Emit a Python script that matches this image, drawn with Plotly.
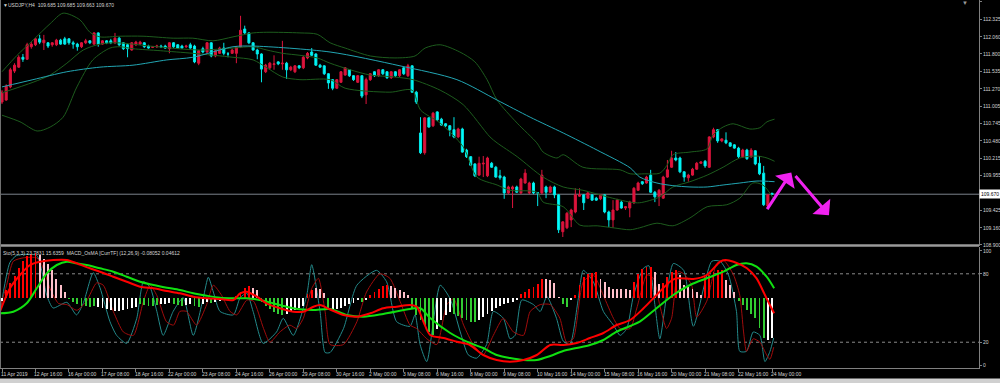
import plotly.graph_objects as go

# ---------------- data ----------------
time_labels = ["11 Apr 2019", "12 Apr 16:00", "16 Apr 00:00", "17 Apr 08:00", "18 Apr 16:00",
               "22 Apr 00:00", "23 Apr 08:00", "24 Apr 16:00", "26 Apr 00:00", "29 Apr 08:00",
               "30 Apr 16:00", "2 May 00:00", "3 May 08:00", "6 May 16:00", "8 May 00:00",
               "9 May 08:00", "10 May 16:00", "14 May 00:00", "15 May 08:00", "16 May 16:00",
               "20 May 00:00", "21 May 08:00", "22 May 16:00", "24 May 00:00"]
label_bars = [0, 8, 16, 24, 32, 40, 48, 56, 64, 72, 80, 88, 96, 104, 112, 120, 128, 136,
              144, 152, 160, 168, 176, 184]

price_ticks = [112.590, 112.325, 112.060, 111.800, 111.535, 111.270, 111.005, 110.745,
               110.480, 110.215, 109.955, 109.425, 109.160, 108.900]
last_price = 109.670

opens = [111.07, 111.10, 111.30, 111.54, 111.60, 111.75, 111.72, 111.91, 111.94, 112.03,
         111.97, 111.97, 111.94, 111.94, 112.01, 112.03, 112.03, 111.97, 111.95, 111.91,
         111.97, 112.00, 111.95, 112.12, 111.95, 112.00, 112.00, 111.97, 112.04, 111.97,
         111.94, 111.86, 111.94, 111.95, 111.97, 111.92, 111.90, 111.91, 111.92, 111.92,
         111.88, 111.97, 111.94, 111.92, 111.91, 111.94, 111.92, 111.66, 111.88, 111.83,
         111.97, 111.77, 111.81, 111.89, 111.80, 111.81, 111.81, 111.91, 112.18, 112.12,
         111.97, 111.86, 111.80, 111.53, 111.59, 111.64, 111.68, 111.65, 111.66, 111.56,
         111.53, 111.62, 111.59, 111.74, 111.83, 111.80, 111.63, 111.62, 111.50, 111.41,
         111.28, 111.37, 111.48, 111.56, 111.47, 111.37, 111.47, 111.18, 111.41, 111.53,
         111.47, 111.56, 111.53, 111.44, 111.53, 111.47, 111.59, 111.47, 111.62, 111.22,
         110.60, 110.30, 110.83, 110.71, 110.92, 110.81, 110.74, 110.71, 110.65, 110.54,
         110.66, 110.34, 110.24, 110.13, 109.96, 110.13, 109.95, 110.14, 110.08, 109.95,
         109.93, 109.69, 109.75, 109.78, 109.69, 109.84, 109.69, 109.84, 109.69, 109.69,
         109.78, 109.70, 109.78, 109.66, 109.10, 109.16, 109.28, 109.40, 109.64, 109.66,
         109.61, 109.66, 109.61, 109.60, 109.66, 109.40, 109.28, 109.43, 109.55, 109.46,
         109.46, 109.54, 109.73, 109.86, 109.84, 109.96, 109.70, 109.63, 109.61, 109.93,
         110.08, 110.22, 110.22, 110.01, 109.92, 109.96, 110.05, 110.14, 110.17, 110.08,
         110.54, 110.65, 110.48, 110.49, 110.45, 110.42, 110.37, 110.24, 110.34, 110.24,
         110.33, 110.14, 109.99, 109.49, 109.685]
highs = [111.25, 111.34, 111.59, 111.66, 111.78, 111.80, 111.97, 111.98, 112.04, 112.09,
         112.09, 111.98, 111.98, 112.03, 112.03, 112.06, 112.04, 112.00, 111.97, 111.98,
         112.03, 112.01, 112.13, 112.13, 112.01, 112.01, 112.03, 112.12, 112.06, 111.98,
         111.95, 111.98, 112.00, 112.00, 111.98, 111.94, 111.92, 111.94, 111.94, 111.94,
         111.98, 111.98, 111.95, 111.94, 111.94, 111.97, 111.94, 111.86, 111.91, 111.98,
         111.98, 111.86, 111.91, 111.97, 111.83, 111.88, 111.92, 112.38, 112.23, 112.13,
         111.98, 111.88, 111.81, 111.65, 111.68, 111.78, 111.69, 112.00, 111.68, 111.62,
         111.63, 111.63, 111.77, 111.83, 111.89, 111.81, 111.65, 111.63, 111.51, 111.42,
         111.42, 111.54, 111.60, 111.57, 111.48, 111.48, 111.48, 111.44, 111.51, 111.54,
         111.57, 111.57, 111.54, 111.54, 111.54, 111.57, 111.60, 111.65, 111.63, 111.24,
         110.84, 110.84, 110.84, 110.92, 110.93, 110.83, 110.75, 110.72, 110.84, 110.68,
         110.68, 110.36, 110.25, 110.14, 110.24, 110.25, 110.24, 110.16, 110.10, 110.04,
         109.95, 109.80, 109.80, 109.80, 109.92, 110.05, 109.86, 109.86, 109.70, 110.04,
         109.80, 109.80, 109.80, 109.67, 109.26, 109.40, 109.45, 109.76, 109.76, 109.67,
         109.70, 109.67, 109.63, 109.67, 109.67, 109.42, 109.58, 109.60, 109.57, 109.49,
         109.57, 109.78, 109.86, 109.87, 109.95, 110.04, 109.72, 109.75, 109.95, 110.19,
         110.33, 110.31, 110.24, 110.02, 109.98, 110.07, 110.16, 110.17, 110.19, 110.55,
         110.68, 110.66, 110.52, 110.61, 110.46, 110.43, 110.39, 110.36, 110.36, 110.37,
         110.34, 110.25, 110.10, 109.67, 109.685]
lows = [111.04, 111.09, 111.28, 111.51, 111.59, 111.68, 111.71, 111.88, 111.92, 111.95,
        111.86, 111.89, 111.91, 111.92, 111.94, 111.94, 111.94, 111.88, 111.85, 111.89,
        111.95, 111.95, 111.94, 111.91, 111.94, 111.95, 111.95, 111.95, 111.92, 111.86,
        111.75, 111.85, 111.92, 111.94, 111.89, 111.88, 111.89, 111.89, 111.89, 111.88,
        111.81, 111.89, 111.88, 111.88, 111.89, 111.88, 111.66, 111.63, 111.81, 111.80,
        111.75, 111.75, 111.80, 111.78, 111.75, 111.80, 111.66, 111.89, 112.10, 111.95,
        111.85, 111.72, 111.37, 111.51, 111.56, 111.56, 111.63, 111.56, 111.42, 111.54,
        111.51, 111.57, 111.57, 111.72, 111.77, 111.62, 111.59, 111.48, 111.27, 111.25,
        111.27, 111.36, 111.47, 111.45, 111.39, 111.36, 111.13, 111.04, 111.39, 111.45,
        111.45, 111.48, 111.42, 111.42, 111.45, 111.45, 111.48, 111.45, 111.21, 111.04,
        110.28, 110.27, 110.68, 110.69, 110.78, 110.71, 110.69, 110.55, 110.52, 110.52,
        110.30, 110.22, 110.10, 109.93, 109.95, 109.93, 109.93, 110.07, 109.92, 109.89,
        109.60, 109.67, 109.46, 109.69, 109.67, 109.83, 109.67, 109.67, 109.49, 109.67,
        109.61, 109.69, 109.61, 109.08, 109.02, 109.14, 109.17, 109.38, 109.63, 109.43,
        109.60, 109.57, 109.57, 109.58, 109.38, 109.17, 109.16, 109.42, 109.45, 109.43,
        109.32, 109.52, 109.72, 109.81, 109.83, 109.69, 109.55, 109.49, 109.60, 109.92,
        110.07, 110.17, 109.99, 109.86, 109.86, 109.95, 110.04, 110.13, 110.07, 110.07,
        110.52, 110.45, 110.46, 110.43, 110.39, 110.36, 110.22, 110.22, 110.19, 110.22,
        110.11, 109.96, 109.49, 109.48, 109.663]
closes = [111.22, 111.31, 111.56, 111.63, 111.75, 111.72, 111.94, 111.95, 112.03, 111.98,
          112.01, 111.92, 111.97, 112.01, 111.95, 111.95, 111.97, 111.95, 111.91, 111.97,
          112.00, 111.97, 112.12, 111.95, 112.00, 111.97, 111.97, 112.04, 111.94, 111.88,
          111.88, 111.97, 111.98, 111.98, 111.91, 111.89, 111.91, 111.92, 111.91, 111.89,
          111.97, 111.91, 111.89, 111.89, 111.92, 111.89, 111.68, 111.85, 111.83, 111.97,
          111.77, 111.85, 111.89, 111.81, 111.80, 111.86, 111.91, 112.16, 112.12, 111.97,
          111.86, 111.80, 111.57, 111.63, 111.66, 111.65, 111.65, 111.66, 111.56, 111.60,
          111.62, 111.59, 111.75, 111.81, 111.78, 111.63, 111.60, 111.50, 111.36, 111.28,
          111.41, 111.53, 111.59, 111.47, 111.41, 111.47, 111.16, 111.41, 111.50, 111.47,
          111.56, 111.50, 111.44, 111.53, 111.47, 111.56, 111.50, 111.62, 111.22, 111.07,
          110.30, 110.83, 110.69, 110.90, 110.80, 110.72, 110.71, 110.65, 110.54, 110.66,
          110.31, 110.24, 110.11, 109.95, 110.14, 110.14, 110.22, 110.08, 109.93, 109.92,
          109.69, 109.78, 109.78, 109.70, 109.90, 109.99, 109.84, 109.69, 109.69, 109.96,
          109.70, 109.78, 109.66, 109.13, 109.25, 109.38, 109.43, 109.66, 109.66, 109.54,
          109.69, 109.58, 109.58, 109.66, 109.40, 109.28, 109.43, 109.58, 109.46, 109.48,
          109.55, 109.76, 109.84, 109.83, 109.93, 109.70, 109.63, 109.73, 109.93, 110.04,
          110.22, 110.19, 110.01, 109.93, 109.96, 110.05, 110.14, 110.16, 110.10, 110.54,
          110.65, 110.48, 110.51, 110.45, 110.40, 110.37, 110.24, 110.34, 110.21, 110.34,
          110.13, 109.98, 109.51, 109.66, 109.670]

# moving average (teal) and Bollinger bands, sampled along the bars
ma_bar = [0, 7.4, 15.5, 23.4, 31.3, 39.4, 45.6, 55.2, 60, 78.4, 95.1, 108.7, 118.3, 126.2,
          134.1, 142.2, 150.1, 152.4, 156.5, 160.3, 164.4, 168.5, 172.3, 176.3, 180.4, 184.6]
ma = [111.30, 111.41, 111.53, 111.60, 111.63, 111.71, 111.75, 111.91, 111.92, 111.83,
      111.62, 111.41, 111.10, 110.84, 110.60, 110.34, 110.07, 109.93, 109.84, 109.80,
      109.78, 109.78, 109.81, 109.84, 109.87, 109.86]
ub_bar = [0, 3.6, 7.4, 11.5, 14.6, 18.6, 21, 23.4, 28.2, 33.7, 40.9, 45.6, 50.4, 55.2, 60,
          63.3, 71.2, 75.3, 78.4, 82, 88, 93.9, 98.7, 101.1, 104.7, 109.4, 113, 115.9, 118.3,
          123.1, 127.8, 129.3, 132.6, 134.1, 138.8, 147.7, 150.1, 153.6, 157.2, 158.9, 160.3,
          164.4, 168.5, 169.9, 172.3, 174.7, 178.7, 181.1, 182.8, 184.6]
ub = [111.53, 111.78, 112.01, 112.26, 112.42, 112.32, 112.13, 112.06, 112.07, 112.07,
      112.04, 112.04, 112.00, 112.06, 112.12, 112.13, 112.12, 112.10, 111.97, 111.89,
      111.77, 111.74, 111.77, 111.89, 111.94, 111.83, 111.68, 111.41, 111.10, 110.75,
      110.45, 110.31, 110.22, 110.27, 110.08, 110.04, 109.98, 109.98, 109.99, 110.11,
      110.27, 110.31, 110.36, 110.57, 110.69, 110.74, 110.66, 110.68, 110.77, 110.81]
mb_bar = [0, 7.4, 11.5, 15.5, 19.4, 23.4, 27.5, 35.4, 47.3, 55.2, 60, 63.3, 67.1, 71.2, 75.3,
          78.4, 83.2, 88, 93.9, 98.2, 104.7, 110.2, 116.6, 118.3, 123.1, 129.3, 134.1, 138.8,
          144.6, 150.1, 152.4, 157.2, 160.3, 164.4, 168.5, 172.3, 176.3, 180.4, 182.8, 184.6]
mb = [111.21, 111.37, 111.48, 111.66, 111.86, 111.95, 111.97, 111.92, 111.86, 111.89,
      111.91, 111.86, 111.81, 111.78, 111.74, 111.66, 111.56, 111.48, 111.45, 111.41,
      111.25, 111.03, 110.54, 110.45, 110.24, 109.93, 109.78, 109.73, 109.63, 109.55,
      109.54, 109.63, 109.78, 109.86, 109.96, 110.08, 110.22, 110.25, 110.22, 110.17]
lb_bar = [0, 4.3, 8.4, 11.5, 14.6, 17.9, 21.7, 25.8, 28.2, 31.3, 37.8, 45.6, 55.2, 60, 63.3,
          67.1, 71.2, 78.4, 82, 92.7, 98, 100, 104.7, 110.2, 113.5, 118.3, 121.4, 127.8,
          129.3, 134.1, 138.1, 142.2, 146, 150.1, 152.4, 156.5, 160.3, 164.4, 168.5, 173.2,
          176.3, 179.4, 181.8, 184.6]
lb = [110.87, 110.77, 110.63, 110.69, 110.84, 111.30, 111.71, 111.89, 111.91, 111.88,
      111.85, 111.81, 111.75, 111.71, 111.59, 111.45, 111.41, 111.41, 111.28, 111.22,
      111.25, 110.95, 110.75, 110.39, 109.93, 109.81, 109.73, 109.70, 109.55, 109.48,
      109.20, 109.19, 109.16, 109.13, 109.16, 109.23, 109.19, 109.31, 109.48, 109.51,
      109.61, 109.84, 109.81, 109.58]

# Stochastic (5,3,3): main (%K) and signal (%D)
sto_k_bar = [-0.4, 1.9, 3.5, 8.3, 10.7, 12.2, 15.5, 17.8, 19.4, 21.8, 23.4, 25.8, 27.4, 29.8,
             32.2, 33.8, 35.4, 37, 38.5, 40.9, 43.3, 45.7, 48.1, 49.3, 50.5, 52.1, 55.3, 56.9,
             58.5, 60, 62.4, 65.6, 67.2, 69.6, 72.8, 74, 76, 77.2, 78.4, 81.6, 84.8, 89.5,
             91.9, 94.3, 97.5, 98.7, 99.9, 101.5, 104.7, 107.1, 109.5, 111.4, 113.4, 115.8,
             117.4, 119.8, 121.4, 122.6, 124.2, 127, 128.6, 130.2, 132.5, 134.1, 135.7, 137.7,
             138.9, 141.3, 143.7, 146.1, 147.7, 149.3, 150.9, 153.3, 154.6, 156, 157.2, 160.4,
             162.9, 165.2, 169.6, 171.6, 173.6, 175.5, 176.3, 177.9, 179.5, 181.1, 182.3,
             183.5, 184.4]
sto_k = [48, 90, 96, 96, 61, 50, 55, 44, 54, 81, 68, 38, 26, 19, 41, 73, 68, 47, 26, 47,
         59, 26, 59, 77, 64, 47, 44, 59, 63, 47, 19, 29, 41, 26, 61, 88, 47, 11, 11, 32,
         70, 83, 73, 38, 34, 44, 18, 3, 70, 58, 29, 9, 6, 18, 47, 41, 23, 26, 57, 53,
         47, 60, 41, 21, 18, 58, 83, 73, 47, 35, 26, 32, 61, 85, 87, 53, 23, 89, 83, 34,
         91, 91, 79, 47, 12, 12, 29, 26, 3, 12, 23.78]
sto_d_bar = [-0.5, 1.1, 2.7, 5.1, 8.3, 9.5, 11.5, 13.5, 15.5, 17.9, 20.2, 22.6, 24.2, 26.6,
             29, 31.4, 33.8, 35.4, 37, 39.3, 41, 42.5, 44.1, 46.5, 48.9, 50.5, 52.5, 54.5,
             56.1, 58.5, 60.1, 62.5, 64, 66.4, 68.8, 70.4, 72, 74, 75.6, 77.2, 78.4, 81.6,
             84.8, 87.1, 90.3, 92.7, 95.1, 97.5, 99.1, 101.5, 103.9, 106.3, 107.9, 110.3,
             112.6, 115, 117.4, 119.8, 122.2, 124.6, 126.2, 128.6, 131, 133.3, 134.9, 136.5,
             138.9, 141.3, 143.7, 146.1, 147.7, 150.1, 151.7, 154.1, 155.7, 157.2, 158.8, 160,
             161.6, 162.9, 164.8, 166, 168.4, 170.8, 172.4, 174.8, 176.3, 177.2, 177.9, 179.5,
             181.1, 182.7, 183.5, 184.4]
sto_d = [50, 70, 91, 94, 94, 88, 67, 54, 53, 48, 56, 72, 70, 47, 29, 26, 56, 70, 61, 38,
         35, 47, 47, 35, 53, 70, 61, 47, 44, 57, 56, 32, 20, 29, 35, 32, 41, 67, 76, 47,
         18, 18, 38, 64, 80, 76, 56, 35, 32, 23, 18, 53, 58, 35, 18, 9, 26, 41, 29, 26,
         47, 53, 53, 41, 20, 23, 73, 79, 61, 41, 32, 32, 50, 79, 76, 52, 32, 41, 82, 80,
         70, 42, 56, 89, 92, 79, 61, 29, 12, 23, 20, 9, 5, 15.64]

# MACD_OsMA [CurrTF] (12,26,9): histogram per bar and its two lines (indicator units)
osma = [-3, 8, 15, 22, 30, 37, 42, 44, 45, 43, 39, 34, 28, 19, 13, 6, -1, -4, -6, -8, -8, -9,
        -8, -9, -10, -11, -12, -13, -13, -12, -11, -10, -9, -6, -7, -8, -8, -7, -6, -6, -5,
        -6, -7, -8, -7, -6, -8, -9, -6, -4, -5, -4, -3, -2, -1, -1, 2, 6, 10, 12, 10, 8,
        -4, -8, -11, -14, -16, -17, -16, -14, -12, -10, -8, 4, 8, 10, 9, 5, -10, -12, -11,
        -10, -8, -6, -5, -2, -4, -2, 3, 6, 9, 12, 13, 12, 10, 8, 6, 3, -11, -17, -22, -27,
        -34, -37, -31, -22, -17, -14, -16, -18, -20, -22, -24, -24, -22, -19, -16, -13, -10,
        -8, -6, -5, -4, -2, 4, 6, 9, 11, 14, 19, 19, 18, 15, 1, -6, -9, -2, 3, 13, 21, 24,
        25, 26, 19, 16, 11, 9, 9, 9, 9, 8, 16, 24, 29, 31, 31, 26, 14, 15, 21, 26, 28, 23,
        13, 11, 9, 6, 3, 21, 23, 26, 28, 28, 18, 13, 6, -3, -7, -12, -16, -20, -30, -40,
        -42, -40]
osma_state = ("w" + "rrrrrrrr" + "ppppppp" + "ggggggg" + "wwwwwwwwww" + "ggggg" + "www" + "ggg"
              + "ww" + "gg" + "ww" + "g" + "wwwww" + "rrrr" + "pp" + "gggggg" + "wwwww" + "rr"
              + "ppp" + "g" + "wwwwwww" + "g" + "w" + "rrrrr" + "ppppp" + "gggggg" + "wwww"
              + "gggggg" + "wwwwwwwwww" + "rrrrrr" + "pppp" + "gg" + "w" + "rrrrrr" + "pppppppp"
              + "rrrrr" + "pp" + "rrrr" + "pppppp" + "rrrrr" + "ppp" + "ggggggg" + "ww")
macd_bar = [-0.5, 1.9, 4.3, 6.7, 9.1, 12.3, 15.5, 17.8, 21, 23.4, 26.6, 29.8, 33, 36.2, 39.4,
            42.5, 45.7, 48.9, 52.1, 55.3, 56.9, 58.5, 60.9, 63.2, 66.4, 69.6, 72, 74.4, 76,
            78.4, 81.6, 84.8, 88, 91.1, 94.3, 97.5, 99.1, 100.7, 102.3, 105.5, 108.7, 111.8,
            115, 118.2, 121.4, 124.6, 127.8, 131, 134.1, 137.3, 140.5, 143.7, 146.9, 150.1,
            153.3, 156.4, 159.6, 161.2, 165.2, 168.4, 171.6, 172.8, 174.8, 178, 180.3, 182.3,
            183.6, 184.5]
macd_main = [-13.7, 9.7, 23, 33, 36.3, 38, 38, 34.7, 29.7, 26.3, 21.3, 16.3, 11.3, 9.7, 7,
             4.7, 1.3, -0.3, -1, -2, 4.7, 6.3, 1.3, -5.3, -10.3, -13.7, -13.7, -8.7, -7, -11.5,
             -17, -18.7, -15.3, -10.3, -8.7, -7, -8.7, -23.7, -37, -40, -43.7, -47, -57, -62,
             -63.7, -62, -57, -47, -47, -45, -40, -35, -27, -22, -10.3, 3, 16.3, 19.7, 19, 23,
             36.3, 38, 36.3, 29.7, 19.7, 3, -8, -15.3]
sig_bar = [-0.5, 2.7, 5.9, 8.3, 10.7, 13.1, 15.5, 17.8, 20.2, 23.4, 26.6, 29.8, 33, 36.2, 39.4,
           42.5, 45.7, 48.9, 52.1, 55.3, 58.5, 61.6, 64.8, 68, 71.2, 74.4, 78.4, 82.4, 86.4,
           91.1, 97.5, 99.9, 102.3, 107.1, 111.8, 115, 118.2, 121.4, 124.6, 127.8, 131, 134.1,
           137.3, 140.5, 143.7, 146.9, 150.1, 152.4, 156.4, 160.4, 164.4, 168.4, 172.4, 175.5,
           177.9, 180.3, 182.7, 184.5]
macd_signal = [-15.3, -13.7, -5.3, 9.7, 24.7, 33, 36.3, 34.7, 33, 29.7, 26.3, 21.3, 16.3, 13,
               10.3, 8, 4.7, 2.3, 0.3, -0.3, -0.3, -2, -5.3, -8.7, -11.3, -12, -11, -17, -18.7,
               -16, -11, -10, -20, -35, -45, -50, -57, -60, -62, -62, -58, -53, -50, -47, -42,
               -33.7, -28, -23.7, -10.3, 3, 13, 19.7, 26.3, 33, 34.7, 31.3, 21.3, 9.7]

# hand-drawn magenta arrows on the chart: (tail bar, tail price, head bar, head price)
drawn_arrows = [(182.6, 109.42, 188.6, 110.00), (189.3, 109.97, 197.6, 109.35)]

# ---------------- styling / layout ----------------
FONT = "Liberation Sans"
TXT = "#d4d4d4"
AXC = "#808080"
W, H = 1000, 383
PLOT_W = 979          # plot area right edge (px)
PLOT_B = 368          # plot area bottom (px)
BAR0_X, BAR_DX = 2.0, 4.185


def px_x(p):          # pixel -> paper (x)
    return p / PLOT_W


def px_y(p):          # pixel -> paper (y)
    return (PLOT_B - p) / PLOT_B


xrange_ = [(0 - BAR0_X) / BAR_DX, (PLOT_W - BAR0_X) / BAR_DX]
main_top_price = 112.62
main_bottom_price = 112.62 - 0.01519 * 246

fig = go.Figure()

bars = list(range(len(opens)))
fig.add_trace(go.Candlestick(
    x=bars, open=opens, high=highs, low=lows, close=closes,
    increasing=dict(line=dict(color="#dc143c", width=1), fillcolor="#dc143c"),
    decreasing=dict(line=dict(color="#00e8e8", width=1), fillcolor="#00ffff"),
    whiskerwidth=0, hoverinfo="skip", xaxis="x", yaxis="y"))

band_col = "#1d5c1d"
for bx, by in [(ub_bar, ub), (mb_bar, mb), (lb_bar, lb)]:
    fig.add_trace(go.Scatter(x=bx, y=by, mode="lines",
                             line=dict(color=band_col, width=1, shape="spline", smoothing=0.8),
                             hoverinfo="skip", xaxis="x", yaxis="y"))
fig.add_trace(go.Scatter(x=ma_bar, y=ma, mode="lines",
                         line=dict(color="#22a6b3", width=1, shape="spline", smoothing=0.8),
                         hoverinfo="skip", xaxis="x", yaxis="y"))

state_col = {"r": "#ff0000", "p": "#ffc0cb", "g": "#32cd32", "w": "#ffffff"}
fig.add_trace(go.Bar(x=bars, y=osma, width=0.45,
                     marker=dict(color=[state_col[c] for c in osma_state], line=dict(width=0)),
                     hoverinfo="skip", xaxis="x", yaxis="y3"))
fig.add_trace(go.Scatter(x=sto_k_bar, y=sto_k, mode="lines",
                         line=dict(color="#23898a", width=1, shape="spline", smoothing=0.6),
                         hoverinfo="skip", xaxis="x", yaxis="y2"))
fig.add_trace(go.Scatter(x=sto_d_bar, y=sto_d, mode="lines",
                         line=dict(color="#a00c0c", width=1, shape="spline", smoothing=0.6),
                         hoverinfo="skip", xaxis="x", yaxis="y2"))
fig.add_trace(go.Scatter(x=sig_bar, y=macd_signal, mode="lines",
                         line=dict(color="#10e010", width=2, shape="spline", smoothing=0.8),
                         hoverinfo="skip", xaxis="x", yaxis="y3"))
fig.add_trace(go.Scatter(x=macd_bar, y=macd_main, mode="lines",
                         line=dict(color="#ff0000", width=2, shape="spline", smoothing=0.8),
                         hoverinfo="skip", xaxis="x", yaxis="y3"))

shapes = [
    dict(type="line", xref="paper", yref="y", x0=0, x1=1, y0=last_price, y1=last_price,
         line=dict(color="#7c838c", width=1), layer="below"),
    dict(type="line", xref="paper", yref="y2", x0=0, x1=1, y0=80, y1=80,
         line=dict(color="#8a8a8a", width=1, dash="dot"), layer="below"),
    dict(type="line", xref="paper", yref="y2", x0=0, x1=1, y0=20, y1=20,
         line=dict(color="#8a8a8a", width=1, dash="dot"), layer="below"),
    dict(type="line", xref="paper", yref="paper", x0=0, x1=1, y0=px_y(245.5), y1=px_y(245.5),
         line=dict(color="#9a9a9a", width=2.5)),
    dict(type="line", xref="paper", yref="paper", x0=px_x(0.5), x1=px_x(0.5), y0=0, y1=1,
         line=dict(color="#707070", width=1)),
    dict(type="rect", xref="paper", yref="paper", x0=0, x1=W / PLOT_W, y0=px_y(383),
         y1=px_y(378.5), fillcolor="#d0d0d0", line=dict(width=0)),
]

annotations = [
    dict(xref="paper", yref="paper", x=px_x(1), y=px_y(5), xanchor="left", yanchor="middle",
         text="▼", showarrow=False, font=dict(family=FONT, size=5, color=TXT)),
    dict(xref="paper", yref="paper", x=px_x(6), y=px_y(5), xanchor="left", yanchor="middle",
         text="USDJPY,H4  109.685 109.685 109.663 109.670", showarrow=False,
         font=dict(family=FONT, size=5, color=TXT)),
    dict(xref="paper", yref="paper", x=px_x(1), y=px_y(252.5), xanchor="left", yanchor="middle",
         text="Sto(5,3,3) 23.7831 15.6359  MACD_OsMA [CurrTF] (12,26,9) -0.08052 0.04612",
         showarrow=False, font=dict(family=FONT, size=5, color=TXT)),
    dict(xref="paper", yref="paper", x=px_x(965), y=px_y(3), xanchor="center", yanchor="middle",
         text="▼", showarrow=False, font=dict(family=FONT, size=6, color="#9a9a9a")),
    dict(xref="paper", yref="y", x=1, y=last_price, xanchor="left", yanchor="middle",
         text=f"{last_price:.3f}", showarrow=False, bgcolor="#ffffff", borderpad=1,
         font=dict(family=FONT, size=5, color="#000000")),
]
for b, t in zip(label_bars, time_labels):
    annotations.append(dict(xref="x", yref="paper", x=b, y=0, xanchor="left", yanchor="top",
                            xshift=-3, yshift=-1, text=t, showarrow=False,
                            font=dict(family=FONT, size=5, color=TXT)))
for tx, ty, hx, hy in drawn_arrows:
    annotations.append(dict(xref="x", yref="y", axref="x", ayref="y", x=hx, y=hy, ax=tx, ay=ty,
                            text="", showarrow=True, arrowhead=1, arrowsize=1.3,
                            arrowwidth=3, arrowcolor="#f022f0"))

fig.update_layout(
    width=W, height=H, template="none",
    paper_bgcolor="#000000", plot_bgcolor="#000000",
    margin=dict(l=0, r=W - PLOT_W, t=0, b=H - PLOT_B, pad=0),
    showlegend=False, bargap=0,
    font=dict(family=FONT, size=5, color=TXT),
    xaxis=dict(domain=[0, 1], range=xrange_, anchor="y2", showgrid=False, zeroline=False,
               showline=True, linecolor=AXC, linewidth=1, ticks="outside", ticklen=3,
               tickcolor=AXC, tickvals=label_bars, showticklabels=False,
               rangeslider=dict(visible=False), automargin=False, fixedrange=True),
    yaxis=dict(domain=[px_y(246), 1], range=[main_bottom_price, main_top_price], side="right",
               anchor="x", showgrid=False, zeroline=False, showline=True, linecolor=AXC,
               ticks="outside", ticklen=2, tickcolor=AXC, tickvals=price_ticks,
               ticktext=[f"{v:.3f}" for v in price_ticks],
               tickfont=dict(family=FONT, size=5, color=TXT), automargin=False),
    yaxis2=dict(domain=[0, px_y(247)], range=[-2.6, 103.5], side="right", anchor="x",
                showgrid=False, zeroline=False, showline=True, linecolor=AXC,
                ticks="outside", ticklen=2, tickcolor=AXC, tickvals=[0, 20, 80, 100],
                tickfont=dict(family=FONT, size=5, color=TXT), automargin=False),
    yaxis3=dict(overlaying="y2", range=[-70, 51], visible=False, showgrid=False,
                zeroline=False, automargin=False),
    shapes=shapes, annotations=annotations,
)

fig.write_html("out.html", config={"displayModeBar": False, "staticPlot": True},
               post_script="document.body.style.margin='0';document.body.style.background='#000';")
